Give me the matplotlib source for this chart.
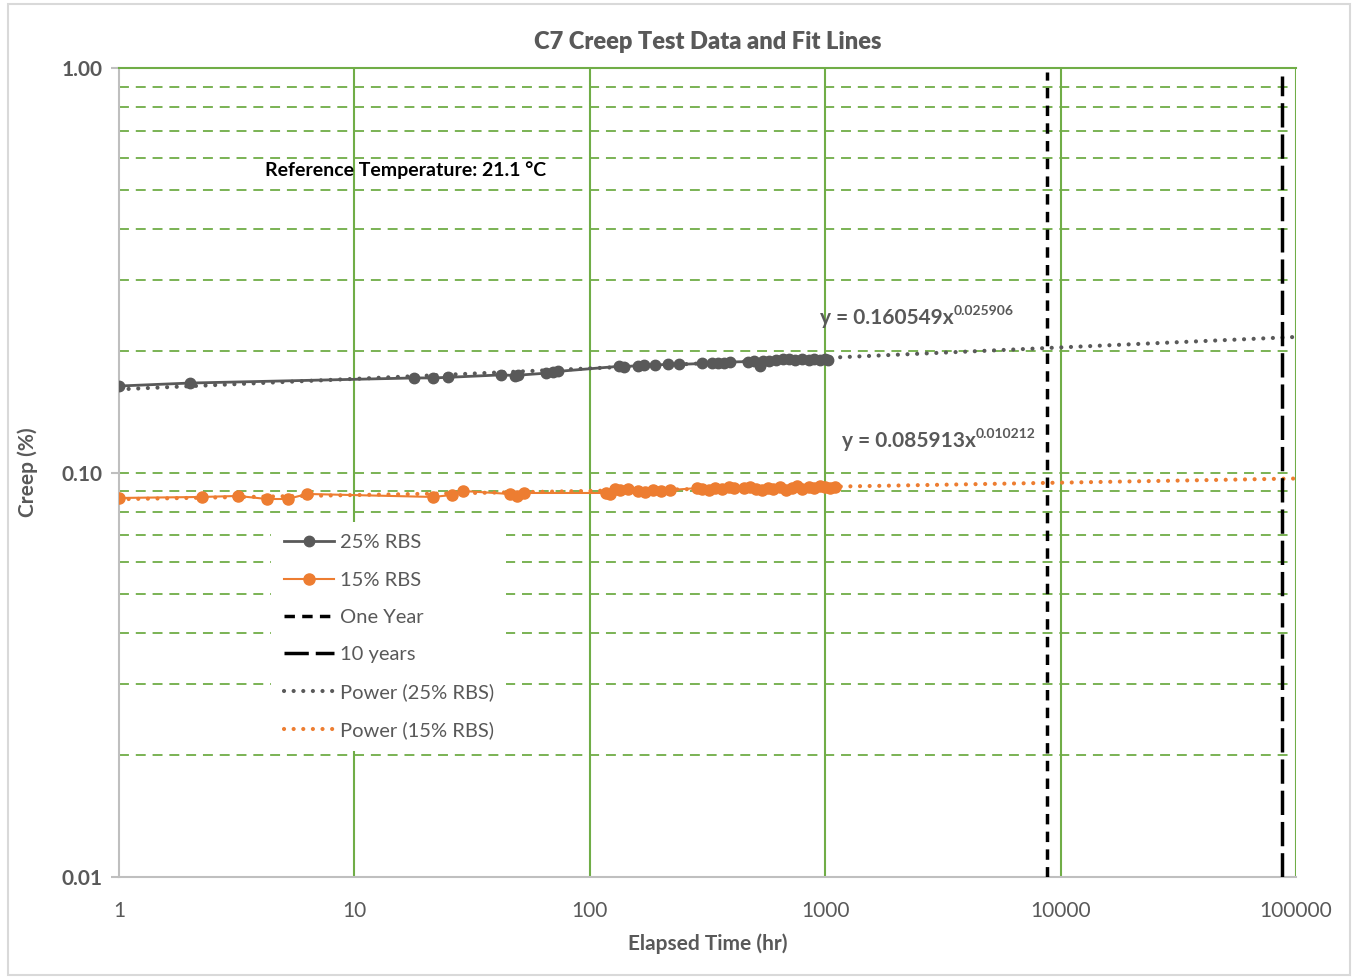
import matplotlib.pyplot as plt
from matplotlib.patches import Rectangle
import numpy as np

plt.rcParams['font.family'] = ['Lato', 'DejaVu Sans']

# 25% RBS creep data (hours, creep %)
hours_25 = [1, 2, 18, 21.5, 25,
            42, 48, 49.5, 65, 70, 73,
            133, 140, 160, 170, 190, 215, 240,
            300, 330, 350, 370, 395,
            470, 500, 530, 545, 575,
            620, 660, 700, 745, 800, 850, 900, 950, 1000, 1030]
creep_25 = [0.1636, 0.1664, 0.1713, 0.1713, 0.1719,
            0.1743, 0.1737, 0.1740, 0.1760, 0.1772, 0.1778,
            0.1830, 0.1826, 0.1838, 0.1845, 0.1845, 0.1850, 0.1850,
            0.1860, 0.1865, 0.1870, 0.1870, 0.1876,
            0.1880, 0.1885, 0.1830, 0.1888, 0.1890,
            0.1900, 0.1905, 0.1905, 0.1900, 0.1905, 0.1900, 0.1905, 0.1900, 0.1905, 0.1900]

# 15% RBS creep data
hours_15 = [1, 2.25, 3.2, 4.25, 5.2, 6.3,
            21.6, 26, 29, 45.8, 49, 52.5,
            117, 122, 128, 135, 145, 160, 172, 185, 200, 220,
            285, 300, 320, 340, 365, 390, 410,
            450, 480, 510, 540, 570, 600, 640, 680, 720, 760, 800, 850, 900, 950, 1000, 1050, 1100]
creep_15 = [0.0865, 0.0870, 0.0875, 0.0860, 0.0860, 0.0885,
            0.0870, 0.0880, 0.0900, 0.0885, 0.0875, 0.0890,
            0.0890, 0.0885, 0.0910, 0.0905, 0.0910, 0.0900, 0.0895, 0.0905, 0.0900, 0.0905,
            0.0915, 0.0910, 0.0905, 0.0915, 0.0910, 0.0920, 0.0915,
            0.0915, 0.0920, 0.0910, 0.0905, 0.0915, 0.0910, 0.0920, 0.0905, 0.0915, 0.0925,
            0.0910, 0.0920, 0.0915, 0.0925, 0.0920, 0.0915, 0.0920]

# power trendlines y = a * x^b, as printed on the chart
fit_25 = (0.160549, 0.025906)
fit_15 = (0.085913, 0.010212)

one_year = 8760
ten_years = 87600

GRAY = '#595959'
ORANGE = '#ED7D31'
GREEN = '#70AD47'
AXIS = '#BFBFBF'

fig = plt.figure(figsize=(13.54, 9.77), dpi=100)
ax = fig.add_axes([119 / 1354, 1 - 877 / 977, (1296 - 119) / 1354, (877 - 68) / 977])

fig.patches.append(Rectangle((8 / 1354, 2 / 977), 1342 / 1354, 971 / 977,
                             transform=fig.transFigure, fill=False,
                             edgecolor='#D9D9D9', linewidth=1.5))

ax.set_xscale('log')
ax.set_yscale('log')
ax.set_xlim(1, 100000)
ax.set_ylim(0.01, 1)

# gridlines
for xv in [10, 100, 1000, 10000, 100000]:
    ax.axvline(xv, color=GREEN, linewidth=1.5, zorder=1)
ygrid = [k * 0.01 for k in range(2, 10)] + [0.1] + [k * 0.1 for k in range(2, 10)]
for yv in ygrid:
    ax.axhline(yv, xmax=0.995, color=GREEN, linewidth=1.3, linestyle=(0, (5.5, 3.8)), zorder=1)

# fit lines
xf = np.logspace(0, 5, 400)
ax.plot(xf, fit_25[0] * xf ** fit_25[1], color=GRAY, linestyle=(0, (0.01, 2.3)),
        linewidth=3, dash_capstyle='round', label='Power (25% RBS)', zorder=3)
ax.plot(xf, fit_15[0] * xf ** fit_15[1], color=ORANGE, linestyle=(0, (0.01, 2.3)),
        linewidth=3, dash_capstyle='round', label='Power (15% RBS)', zorder=3)

# data
l25, = ax.plot(hours_25, creep_25, color=GRAY, linewidth=2, marker='o', markersize=7.5,
               label='25% RBS', zorder=4)
l15, = ax.plot(hours_15, creep_15, color=ORANGE, linewidth=1.5, marker='o', markersize=8,
               label='15% RBS', zorder=4)

l1 = ax.axvline(one_year, ymax=0.995, color='black', linewidth=2.5, linestyle=(0, (3, 2.1)),
                label='One Year', zorder=5)
l10 = ax.axvline(ten_years, ymax=0.99, color='black', linewidth=2.5, linestyle=(0, (7, 2)),
                 label='10 years', zorder=5)

# spines
for side in ['left', 'bottom']:
    ax.spines[side].set_color(AXIS)
    ax.spines[side].set_linewidth(1.5)
ax.spines['top'].set_color(GREEN)
ax.spines['top'].set_linewidth(1.5)
ax.spines['right'].set_visible(False)

ax.set_xticks([1, 10, 100, 1000, 10000, 100000])
ax.set_xticklabels(['1', '10', '100', '1000', '10000', '100000'])
ax.set_yticks([0.01, 0.1, 1])
ax.set_yticklabels(['0.01', '0.10', '1.00'], fontweight='bold')
ax.minorticks_off()
ax.tick_params(axis='x', length=0, pad=17, labelsize=15, labelcolor=GRAY)
ax.tick_params(axis='y', length=6, width=1.5, color=AXIS, pad=6, labelsize=15, labelcolor=GRAY)

ax.set_xlabel('Elapsed Time (hr)', fontsize=15, color=GRAY, fontweight='bold', labelpad=9)
ax.set_ylabel('Creep (%)', fontsize=15, color=GRAY, fontweight='bold', labelpad=17)
ax.set_title('C7 Creep Test Data and Fit Lines', fontsize=17, color=GRAY, fontweight='heavy', pad=14)

ax.text(4.17, 0.56, 'Reference Temperature: 21.1 °C', fontsize=14, fontweight='bold',
        color='black', va='center', ha='left')

# equations with superscript exponents
eq1 = ax.text(950, 0.241, 'y = 0.160549x', fontsize=15, fontweight='bold', color=GRAY,
              va='center', ha='left')
ax.annotate('0.025906', xy=(1, 1), xycoords=eq1, fontsize=10, fontweight='bold', color=GRAY,
            xytext=(0, 2), textcoords='offset points', va='top', ha='left')
eq2 = ax.text(1176, 0.1197, 'y = 0.085913x', fontsize=15, fontweight='bold', color=GRAY,
              va='center', ha='left')
ax.annotate('0.010212', xy=(1, 1), xycoords=eq2, fontsize=10, fontweight='bold', color=GRAY,
            xytext=(0, 2), textcoords='offset points', va='top', ha='left')

handles, labels = ax.get_legend_handles_labels()
order = ['25% RBS', '15% RBS', 'One Year', '10 years', 'Power (25% RBS)', 'Power (15% RBS)']
hmap = dict(zip(labels, handles))
leg = ax.legend([hmap[k] for k in order], order, loc='upper left',
                bbox_to_anchor=(0.121, 0.451), fontsize=14.5, frameon=True,
                facecolor='white', edgecolor='none', framealpha=1, fancybox=False,
                handlelength=2.5, labelspacing=1.0, handletextpad=0.3, borderpad=0.6)
for t in leg.get_texts():
    t.set_color(GRAY)
leg.set_zorder(6)

fig.savefig('out.png', dpi=100)
